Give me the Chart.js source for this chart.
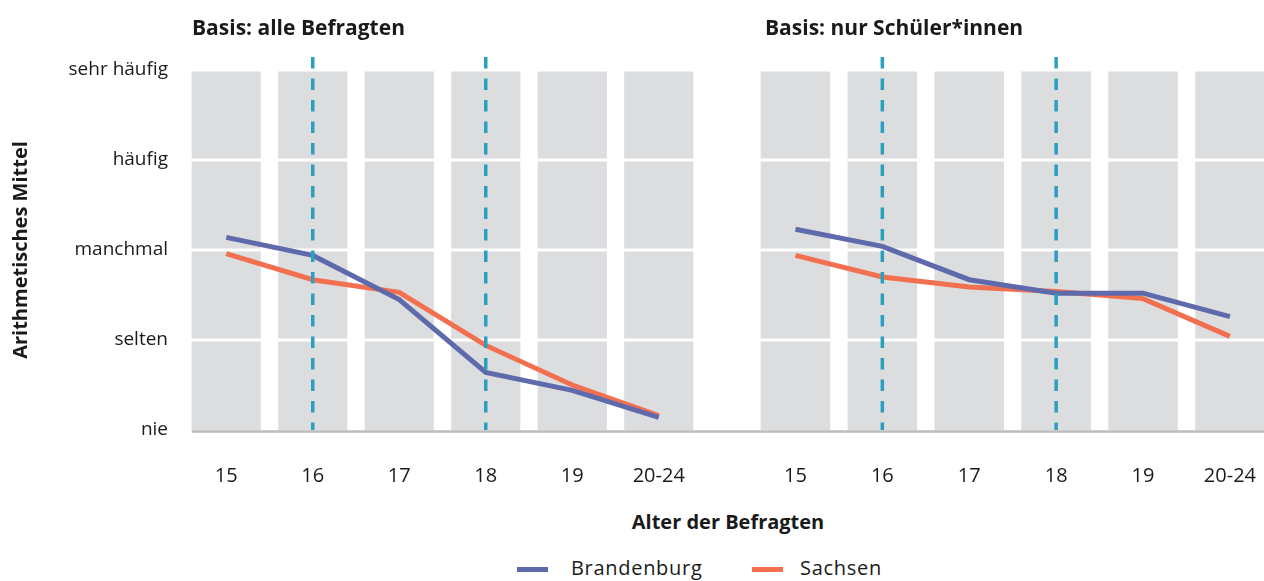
<!DOCTYPE html>
<html>
<head>
<meta charset="utf-8">
<script src="https://cdn.jsdelivr.net/npm/chart.js@4.4.1/dist/chart.umd.min.js"></script>
<style>
html, body { margin: 0; padding: 0; background: #fff; overflow: hidden; width: 1264px; height: 581px; }
body { position: relative; font-family: "Open Sans", sans-serif; color: #1a1a1a; }
canvas { position: absolute; top: 0; }
#leftChart { left: 0; }
#rightChart { left: 728px; }
.panel-title { position: absolute; top: 12px; font-weight: bold; font-size: 21px; line-height: 30px; white-space: nowrap; }
#xTitle { position: absolute; top: 507px; left: 0; width: 1456px; text-align: center; font-weight: bold; font-size: 20px; line-height: 30px; }
.legend-mark { position: absolute; top: 567px; width: 31px; height: 5px; }
.legend-text { position: absolute; top: 553px; font-size: 20px; line-height: 30px; letter-spacing: 0.7px; }
</style>
</head>
<body>
<canvas id="leftChart" width="728" height="500"></canvas>
<canvas id="rightChart" width="554" height="500"></canvas>
<div class="panel-title" style="left:192px">Basis: alle Befragten</div>
<div class="panel-title" style="left:765px">Basis: nur Schüler*innen</div>
<div id="xTitle">Alter der Befragten</div>
<div class="legend-mark" style="left:517px;background:#5f6aad"></div>
<div class="legend-text" style="left:571px">Brandenburg</div>
<div class="legend-mark" style="left:752px;background:#f2704f"></div>
<div class="legend-text" style="left:800px">Sachsen</div>

<script>
const ageLabels = ["15", "16", "17", "18", "19", "20-24"];
const levelLabels = ["nie", "selten", "manchmal", "häufig", "sehr häufig"];
const levelValues = [1, 2, 3, 4, 5];
const markedAges = ["16", "18"];

// Basis: alle Befragten
const brandenburgAll = [3.14, 2.94, 2.45, 1.64, 1.44, 1.14];
const sachsenAll = [2.96, 2.67, 2.53, 1.94, 1.50, 1.16];

// Basis: nur Schüler*innen
const brandenburgPupils = [3.23, 3.04, 2.67, 2.52, 2.52, 2.26];
const sachsenPupils = [2.94, 2.70, 2.59, 2.54, 2.46, 2.04];

const BRANDENBURG = "#5f6aad";
const SACHSEN = "#f2704f";
const DASH = "#2a9fbf";

const panelDeco = {
    id: "panelDeco",
    afterDatasetDraw(chart, args) {
        if (args.index !== 0) return;
        const { ctx, chartArea, scales: { y } } = chart;
        ctx.save();
        ctx.strokeStyle = "#ffffff";
        ctx.lineWidth = 3;
        levelValues.slice(1).forEach(v => {
            const py = y.getPixelForValue(v);
            ctx.beginPath();
            ctx.moveTo(chartArea.left, py);
            ctx.lineTo(chartArea.right, py);
            ctx.stroke();
        });
        ctx.restore();
    },
    afterDatasetsDraw(chart) {
        const { ctx, scales: { x, y } } = chart;
        const opts = chart.options.plugins.panelDeco;
        const bars = chart.getDatasetMeta(0).data;
        const bottom = y.getPixelForValue(levelValues[0]);
        const top = y.getPixelForValue(levelValues[levelValues.length - 1]);
        ctx.save();
        // baseline
        const first = bars[0], last = bars[bars.length - 1];
        const x0 = opts.fromEdge ? 0 : first.x - first.width / 2;
        const x1 = opts.toEdge ? chart.width : last.x + last.width / 2;
        ctx.strokeStyle = "#bdbdbd";
        ctx.lineWidth = 2.5;
        ctx.beginPath();
        ctx.moveTo(x0, bottom + 1.5);
        ctx.lineTo(x1, bottom + 1.5);
        ctx.stroke();
        // dashed markers
        ctx.strokeStyle = DASH;
        ctx.lineWidth = 3.5;
        ctx.setLineDash([11.5, 10]);
        markedAges.forEach(a => {
            const px = x.getPixelForValue(ageLabels.indexOf(a));
            ctx.beginPath();
            ctx.moveTo(px, top - 13);
            ctx.lineTo(px, bottom);
            ctx.stroke();
        });
        ctx.restore();
    }
};

function makeChart(id, seriesB, seriesS, isLeft) {
    const ctx = document.getElementById(id).getContext("2d");
    return new Chart(ctx, {
        data: {
            labels: ageLabels,
            datasets: [
                {
                    type: "bar",
                    data: ageLabels.map(() => [levelValues[0], levelValues[levelValues.length - 1]]),
                    backgroundColor: "#dcdddf",
                    borderWidth: 0,
                    barPercentage: 0.8,
                    categoryPercentage: 1,
                    order: 3
                },
                {
                    type: "line",
                    label: "Brandenburg",
                    data: seriesB,
                    borderColor: BRANDENBURG,
                    borderWidth: 5,
                    pointRadius: 0,
                    tension: 0,
                    order: 1
                },
                {
                    type: "line",
                    label: "Sachsen",
                    data: seriesS,
                    borderColor: SACHSEN,
                    borderWidth: 5,
                    pointRadius: 0,
                    tension: 0,
                    order: 2
                }
            ]
        },
        options: {
            responsive: false,
            animation: false,
            layout: { padding: { top: 70, left: isLeft ? 0 : 24, right: isLeft ? 26 : 0, bottom: 0 } },
            plugins: {
                legend: { display: false },
                tooltip: { enabled: false },
                panelDeco: { fromEdge: !isLeft, toEdge: isLeft }
            },
            scales: {
                x: {
                    grid: { display: false },
                    border: { display: false },
                    ticks: { color: "#1a1a1a", font: { family: "Open Sans", size: 20 }, padding: 26, maxRotation: 0 },
                    afterFit(scale) { scale.height = 70; }
                },
                y: {
                    display: isLeft,
                    min: levelValues[0],
                    max: levelValues[levelValues.length - 1],
                    grid: { display: false },
                    border: { display: false },
                    ticks: {
                        stepSize: 1,
                        padding: 7,
                        color: "#1a1a1a",
                        font: { family: "Open Sans", size: 19 },
                        callback: v => levelLabels[levelValues.indexOf(v)]
                    },
                    title: {
                        display: true,
                        text: "Arithmetisches Mittel",
                        color: "#1a1a1a",
                        font: { family: "Open Sans", size: 20, weight: "bold" },
                        padding: { top: 9, bottom: 4 }
                    },
                    afterFit(scale) { if (isLeft) scale.width = 183; }
                }
            }
        },
        plugins: [panelDeco]
    });
}

makeChart("leftChart", brandenburgAll, sachsenAll, true);
makeChart("rightChart", brandenburgPupils, sachsenPupils, false);
</script>
</body>
</html>
